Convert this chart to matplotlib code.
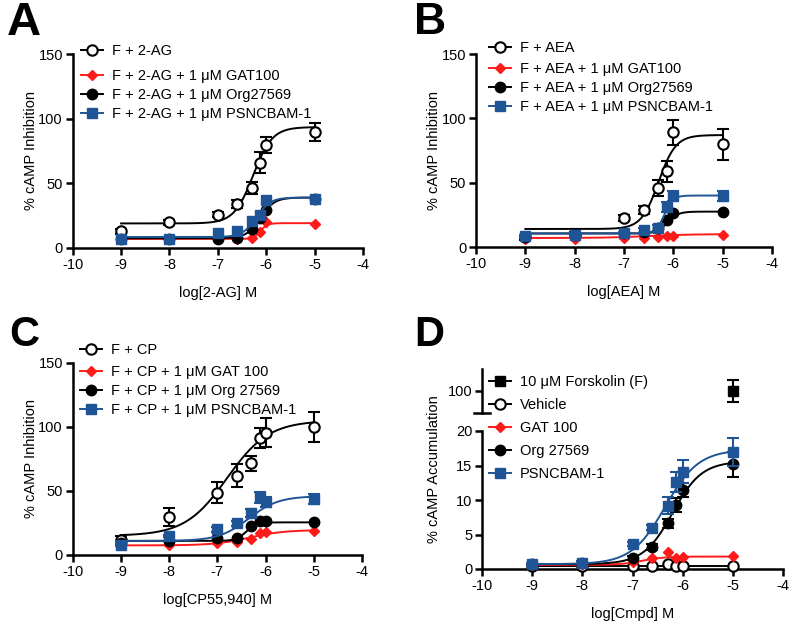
import numpy as np
import matplotlib
matplotlib.use("Agg")
import matplotlib.pyplot as plt
from matplotlib.lines import Line2D

plt.rcParams['font.family'] = ['Liberation Sans', 'DejaVu Sans']
plt.rcParams['axes.unicode_minus'] = False

BLUE = '#1f5596'
RED = '#ff1a1a'

# log[agonist] M for every series
logx = [-9, -8, -7, -6.602, -6.301, -6.125, -6, -5]

# panel A : 2-AG
a_open = [12.9, 19.8, 25.8, 34.0, 46.4, 66.0, 79.6, 89.7]
a_open_err = [2, 2, 2, 3, 5, 8, 6, 7]
a_gat = [7, 7, 7, 7, 7.7, 12.4, 19.8, 18.6]
a_org = [7, 7, 7, 7.5, 14.7, 23, 29.6, 38]
a_psn = [7, 7, 11.6, 13.4, 20.6, 25.8, 37.4, 38]
# fit params : bottom, top, logEC50, hill slope
a_fits = [(19, 93.5, -6.27, 2.2), (7, 19.2, -6.12, 6), (7.5, 39, -6.12, 3), (8.5, 39, -6.2, 3)]

# panel B : AEA
b_open = [7.5, 9.5, 22.5, 28.5, 45.9, 58.8, 89, 80]
b_open_err = [2, 2, 2, 3, 6, 8, 10, 12]
b_gat = [6.2, 6.2, 7, 7, 7.8, 8.3, 8.8, 9.3]
b_org = [7.5, 9.6, 10.9, 12, 14.8, 21, 26.4, 27]
b_psn = [8.3, 9.6, 10.9, 13, 14.8, 31, 39.4, 39.4]
b_psn_err = [1, 1, 1, 2, 2, 4, 4, 4]
b_fits = [(14, 87, -6.3, 2.5), (7, 10, -6.5, 1), (10.5, 27.5, -6.12, 4), (10.5, 40, -6.18, 5)]

# panel C : CP55,940
c_open = [11.7, 29.5, 48.8, 62, 71.7, 91.3, 95.7, 100]
c_open_err = [3, 7, 8, 9, 6, 8, 11, 12]
c_gat = [7.8, 7.8, 9.1, 10.5, 12.3, 17.5, 18, 18.8]
c_org = [9, 11, 13, 13.6, 22.7, 26.6, 26.6, 26]
c_psn = [7.8, 14.9, 20, 24.8, 32.6, 45, 41.7, 43.6]
c_psn_err = [1, 1, 2, 2, 3, 4, 4, 4]
c_fits = [(15, 105, -6.8, 1), (7.5, 19.5, -6.35, 1.2), (11, 25.5, -6.4, 4), (11, 46, -6.35, 1.4)]

# panel D : compound alone
d_veh = [0.5, 0.5, 0.5, 0.4, 0.7, 0.5, 0.5, 0.5]
d_gat = [0.6, 0.7, 1.0, 1.6, 2.5, 1.6, 1.7, 1.9]
d_org = [0.7, 0.9, 1.6, 3.2, 6.6, 9.3, 11.4, 15.2]
d_org_err = [0.2, 0.2, 0.3, 0.4, 0.6, 1.0, 1.0, 1.8]
d_psn = [0.7, 0.9, 3.6, 6.0, 9.2, 12.6, 14.1, 17.0]
d_psn_err = [0.2, 0.2, 0.3, 0.4, 1.2, 1.5, 1.7, 2.0]
d_fits = [(0.5, 0.5, -6.5, 1), (0.6, 1.8, -6.8, 2), (0.7, 15.6, -6.2, 1.5), (0.7, 17.3, -6.35, 1.3)]
forsk_x = -5
forsk_y = 100
forsk_err = 10

labels_a = ['F + 2-AG', 'F + 2-AG + 1 μM GAT100', 'F + 2-AG + 1 μM Org27569', 'F + 2-AG + 1 μM PSNCBAM-1']
labels_b = ['F + AEA', 'F + AEA + 1 μM GAT100', 'F + AEA + 1 μM Org27569', 'F + AEA + 1 μM PSNCBAM-1']
labels_c = ['F + CP', 'F + CP + 1 μM GAT 100', 'F + CP + 1 μM Org 27569', 'F + CP + 1 μM PSNCBAM-1']
labels_d = ['10 μM Forskolin (F)', 'Vehicle', 'GAT 100', 'Org 27569', 'PSNCBAM-1']

styles = [
    dict(marker='o', color='black', mfc='white', mec='black', ms=7.5, mew=1.5),
    dict(marker='D', color=RED, mfc=RED, mec=RED, ms=5.5),
    dict(marker='o', color='black', mfc='black', mec='black', ms=7.5),
    dict(marker='s', color=BLUE, mfc=BLUE, mec=BLUE, ms=7),
]


def hill(x, bottom, top, logec50, slope):
    return bottom + (top - bottom) / (1 + 10 ** ((logec50 - x) * slope))


def style_axis(ax):
    for s in ['top', 'right']:
        ax.spines[s].set_visible(False)
    for s in ['left', 'bottom']:
        ax.spines[s].set_linewidth(1.8)
    ax.tick_params(width=1.8, length=5, labelsize=10.5, pad=2)
    ax.set_xlim(-10, -4)
    ax.set_xticks(range(-10, -3))


def draw_series(ax, ys, errs, fits):
    xs = np.linspace(-9, -5, 300)
    for i, (y, p) in enumerate(zip(ys, fits)):
        st = styles[i]
        ax.plot(xs, hill(xs, *p), color=st['color'], lw=1.4, zorder=2 + i, clip_on=False)
        if errs[i] is not None:
            ax.errorbar(logx, y, yerr=errs[i], fmt='none', ecolor=st['color'], elinewidth=1.5,
                        capsize=4.5, capthick=1.5, zorder=2 + i, clip_on=False)
        ax.plot(logx, y, ls='none', zorder=3 + i, clip_on=False, **st)


def handles(sts):
    return [Line2D([0], [0], lw=1.4, **st) for st in sts]


def legend(fig, hs, labels, x, y, spacing=0.35):
    fig.legend(hs, labels, loc='upper left', bbox_to_anchor=(x / 800, 1 - y / 629), frameon=False,
               borderpad=0, borderaxespad=0, handlelength=1.5, handletextpad=0.6,
               labelspacing=spacing, fontsize=10.5)


fig = plt.figure(figsize=(8, 6.29), dpi=100)

panels = [
    ((72.7, 54, 363, 248), [a_open, a_gat, a_org, a_psn], [a_open_err, None, None, None], a_fits,
     'log[2-AG] M', labels_a, (81, 44, 69), 'A', (7, 1, 34)),
    ((476, 54, 772, 247), [b_open, b_gat, b_org, b_psn], [b_open_err, None, None, b_psn_err], b_fits,
     'log[AEA] M', labels_b, (489, 41, 62), 'B', (414, 2, 32)),
    ((72.7, 363, 362, 555), [c_open, c_gat, c_org, c_psn], [c_open_err, None, None, c_psn_err], c_fits,
     'log[CP55,940] M', labels_c, (80, 343, 365), 'C', (9, 315, 30)),
]

for (l, t, r, b), ys, errs, fits, xlabel, labs, lpos, letter, tpos in panels:
    ax = fig.add_axes([l / 800, 1 - b / 629, (r - l) / 800, (b - t) / 629])
    style_axis(ax)
    ax.set_ylim(0, 150)
    ax.set_yticks([0, 50, 100, 150])
    draw_series(ax, ys, errs, fits)
    ax.set_xlabel(xlabel, fontsize=10.5, labelpad=10)
    ax.set_ylabel('% cAMP Inhibition', fontsize=10.5, labelpad=0.5)
    hs = handles(styles)
    legend(fig, hs[:1], labs[:1], lpos[0], lpos[1])
    legend(fig, hs[1:], labs[1:], lpos[0], lpos[2])
    fig.text(tpos[0] / 800, 1 - tpos[1] / 629, letter, fontsize=tpos[2], fontweight='bold', va='top')

# panel D with broken y axis
ax = fig.add_axes([482 / 800, 1 - 569 / 629, 301 / 800, 138 / 629])
style_axis(ax)
ax.set_ylim(0, 20)
ax.set_yticks([0, 5, 10, 15, 20])
draw_series(ax, [d_veh, d_gat, d_org, d_psn], [None, None, d_org_err, d_psn_err], d_fits)
ax.set_xlabel('log[Cmpd] M', fontsize=10.5, labelpad=10)

ax_up = fig.add_axes([482 / 800, 1 - 413 / 629, 301 / 800, 44 / 629])
for s in ['top', 'right', 'bottom']:
    ax_up.spines[s].set_visible(False)
ax_up.spines['left'].set_linewidth(1.8)
ax_up.tick_params(width=1.8, length=5, labelsize=10.5, pad=2)
ax_up.set_xlim(-10, -4)
ax_up.set_ylim(80, 120)
ax_up.set_xticks([])
ax_up.set_yticks([100])
ax_up.patch.set_alpha(0)
ax_up.errorbar([forsk_x], [forsk_y], yerr=[forsk_err], fmt='s', color='black', ms=7,
               elinewidth=1.5, capsize=4.5, capthick=1.5, clip_on=False)
ax_up.plot([-0.025, 0.025], [0, 0], color='black', lw=1.8, transform=ax_up.transAxes, clip_on=False)

fig.text(434 / 800, 1 - 469 / 629, '% cAMP Accumulation', fontsize=10.5, rotation=90,
         ha='center', va='center')
d_styles = [dict(marker='s', color='black', mfc='black', mec='black', ms=7)] + styles
legend(fig, handles(d_styles), labels_d, 489, 375, spacing=0.62)
fig.text(414 / 800, 1 - 315 / 629, 'D', fontsize=30, fontweight='bold', va='top')

fig.savefig('out.png', dpi=100)
